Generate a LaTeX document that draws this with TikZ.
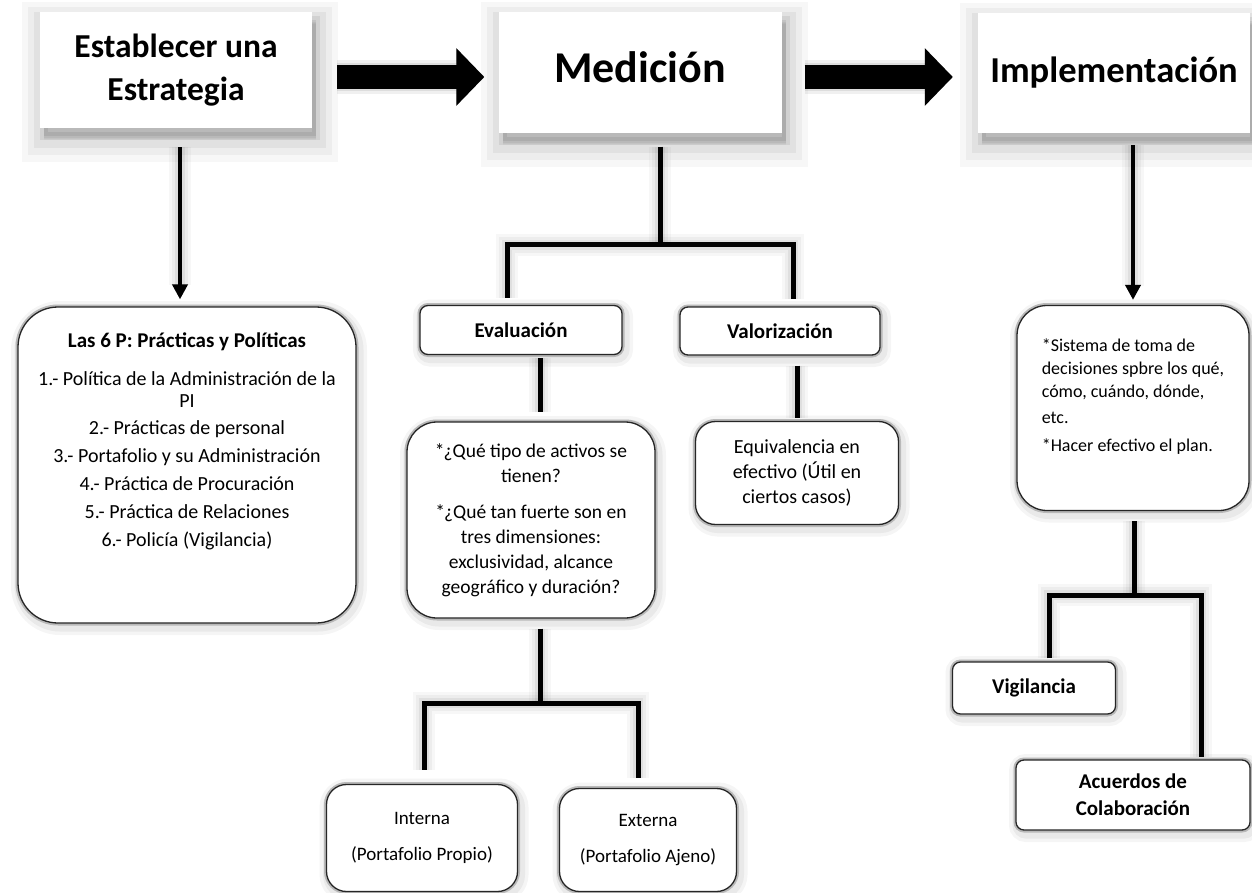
\documentclass[tikz,border=0pt]{standalone}
\usepackage{fontspec}
\setmainfont{Carlito}
\usetikzlibrary{arrows.meta, positioning, calc}

\begin{document}
\begin{tikzpicture}[x=1pt, y=-1pt,
    every node/.style={inner sep=0pt, align=center},
    headshadow/.style={
        preaction={draw=black, fill=black, opacity=0.03, line width=44pt, transform canvas={xshift=4pt, yshift=-12pt}},
        preaction={draw=black, fill=black, opacity=0.04, line width=32pt, transform canvas={xshift=4pt, yshift=-11pt}},
        preaction={draw=black, fill=black, opacity=0.05, line width=20pt, transform canvas={xshift=4pt, yshift=-10pt}},
        preaction={draw=black, fill=black, opacity=0.07, line width=8pt, transform canvas={xshift=4pt, yshift=-8pt}}},
    headbox/.style={fill=white, headshadow},
    roundbox/.style={fill=white, draw=black!85, line width=1.3pt, rounded corners=#1,
        preaction={draw=black, opacity=0.04, line width=18pt, transform canvas={xshift=2pt, yshift=-3pt}},
        preaction={draw=black, opacity=0.05, line width=11pt, transform canvas={xshift=2pt, yshift=-3pt}},
        preaction={draw=gray!55, line width=5pt}},
    roundbox/.default=8pt,
    conn/.style={draw=black, line width=5pt, line join=miter,
        preaction={draw=black, opacity=0.03, line width=22pt},
        preaction={draw=black, opacity=0.04, line width=16pt},
        preaction={draw=black, opacity=0.06, line width=10pt}},
    downarrow/.style={conn, line width=4pt, -{Triangle[length=15pt, width=15pt]}},
    bigarrow/.style={draw=black, line width=24pt, -{Triangle[length=28pt, width=56pt]},
        preaction={draw=black, opacity=0.06, line width=34pt},
        preaction={draw=black, opacity=0.08, line width=28pt}},
    titlefont/.style={font=\bfseries\fontsize{#1}{43}\selectfont},
    labelfont/.style={font=\bfseries\fontsize{21}{27}\selectfont},
    textfont/.style={font=\fontsize{#1}{25}\selectfont}
]
\useasboundingbox (0,0) rectangle (1252,893);

\node[headbox, minimum width=272pt, minimum height=116pt, titlefont=33.5] (est) at (176,70) {Establecer una\\Estrategia};
\node[headbox, minimum width=283pt, minimum height=121pt, titlefont=44, text depth=12pt] (med) at (640,73) {Medición};
\node[headbox, minimum width=272pt, minimum height=120pt, titlefont=36.5] (imp) at (1114,73) {Implementación};

\node[roundbox=40pt, minimum width=338pt, minimum height=316pt, font=\fontsize{20}{20}\selectfont] (pp) at (187,465)
    {{\bfseries\fontsize{21}{24}\selectfont Las 6 P: Prácticas y Políticas}\\[18pt]
     1.- Política de la Administración de la\\[2pt]PI\\[7pt]
     2.- Prácticas de personal\\[8pt]
     3.- Portafolio y su Administración\\[8pt]
     4.- Práctica de Procuración\\[8pt]
     5.- Práctica de Relaciones\\[8pt]
     6.- Policía (Vigilancia)\\[30pt]~};

\node[roundbox, minimum width=202pt, minimum height=49pt, labelfont] (eva) at (521,330) {Evaluación};
\node[roundbox, minimum width=200pt, minimum height=48pt, labelfont] (val) at (780,331) {Valorización};

\node[roundbox=30pt, minimum width=248pt, minimum height=196pt, textfont=19.5] (qb) at (531,520)
    {*\kern-1pt¿Qué tipo de activos se\\tienen?\\[11pt]*\kern-1pt¿Qué tan fuerte son en\\tres dimensiones:\\exclusividad, alcance\\geográfico y duración?};
\node[roundbox=20pt, minimum width=203pt, minimum height=103pt, textfont=20] (eq) at (797,473)
    {Equivalencia en\\efectivo (Útil en\\ciertos casos)};

\node[roundbox=20pt, minimum width=191pt, minimum height=107pt, font=\fontsize{19}{21}\selectfont] (intb) at (422,838)
    {Interna\\[15pt](Portafolio Propio)};
\node[roundbox=20pt, minimum width=177pt, minimum height=103pt, font=\fontsize{19}{21}\selectfont] (extb) at (648,840)
    {Externa\\[15pt](Portafolio Ajeno)};

\node[roundbox=30pt, minimum width=232pt, minimum height=205pt, align=left, font=\fontsize{18}{23}\selectfont] (plan) at (1133,408)
    {*Sistema de toma de\\decisiones spbre los qué,\\cómo, cuándo, dónde,\\[3pt]etc.\\[5pt]*Hacer efectivo el plan.\\[2pt]~};
\node[roundbox, minimum width=163pt, minimum height=52pt, labelfont] (vig) at (1034,688) {Vigilancia};
\node[roundbox, minimum width=234pt, minimum height=70pt, labelfont] (acu) at (1133,795) {Acuerdos de\\Colaboración};

\coordinate (mj) at (660,245);
\coordinate (qj) at (540,703);
\coordinate (pj) at (1134,595);

\draw[bigarrow, shorten <=25pt, shorten >=14pt] ([yshift=-7pt]est.east) -- ([yshift=-7pt]est.east -| med.west);
\draw[bigarrow, shorten <=23pt, shorten >=25pt] ([yshift=-4pt]med.east) -- ([yshift=-4pt]med.east -| imp.west);

\draw[downarrow, shorten <=19pt, shorten >=7pt] ([xshift=4pt]est.south) -- ([xshift=4pt]est.south |- pp.north);
\draw[downarrow, shorten <=12pt, shorten >=5pt] (plan.north |- imp.south) -- (plan.north);

\draw[conn, shorten <=13pt] (med.south -| mj) -- (mj);
\draw[conn, shorten <=7pt, shorten >=7pt] ([xshift=-14pt]eva.north) |- (mj) -| ([xshift=13pt]val.north);
\draw[conn, shorten <=3pt, shorten >=9pt] ([xshift=9pt]qb.north |- eva.south) -- ([xshift=9pt]qb.north);
\draw[conn, shorten <=10pt, shorten >=3pt] (eq.north |- val.south) -- (eq.north);

\draw[conn, shorten <=10pt] (qb.south -| qj) -- (qj);
\draw[conn, shorten <=14pt, shorten >=10pt] ([xshift=2pt]intb.north) |- (qj) -| ([xshift=-10pt]extb.north);

\draw[conn, shorten <=10pt] (plan.south -| pj) -- (pj);
\draw[conn, shorten <=3pt, shorten >=2pt] ([xshift=15pt]vig.north) |- (pj) -| ([xshift=68pt]acu.north);
\end{tikzpicture}
\end{document}
